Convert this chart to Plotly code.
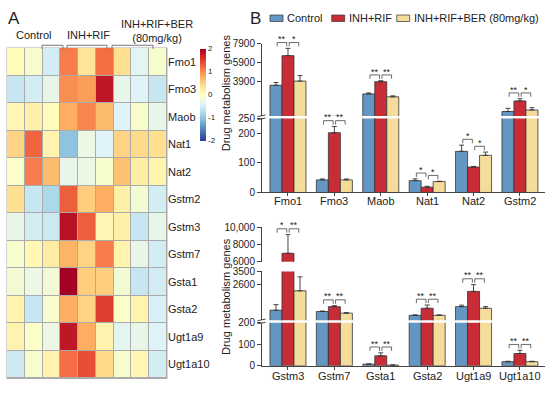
import plotly.graph_objects as go

W, H = 550, 397
FONT = "Arial, 'Liberation Sans', sans-serif"
TXT = "#222222"
AX = "#444444"

# ---------------- data ----------------
heat_genes = ["Fmo1", "Fmo3", "Maob", "Nat1", "Nat2", "Gstm2", "Gstm3", "Gstm7",
              "Gsta1", "Gsta2", "Ugt1a9", "Ugt1a10"]
heat_samples = ["C1", "C2", "C3", "R1", "R2", "R3", "B1", "B2", "B3"]
heat_z = [
    [0.05, -0.1, -0.5, 1.1, 0.35, 1.2, 0.4, -0.35, -0.1],
    [-0.6, -0.5, -0.3, 1.0, 0.9, 1.8, -0.3, -0.4, -0.6],
    [0.1, 0.2, 0.05, 0.8, 1.05, 0.7, -0.4, -0.1, -0.3],
    [0.5, 1.25, 0.15, -1.0, -0.25, -0.4, 0.5, 0.45, 0.4],
    [-0.05, 1.1, 0.7, -0.3, -0.25, -0.1, 0.65, 0.25, 0.15],
    [0.4, -0.6, -0.8, 1.3, 0.55, 0.8, 0.2, -0.15, -0.5],
    [-0.3, -0.5, -0.55, 1.85, 1.3, 0.1, 0.2, -0.6, -0.3],
    [-0.1, 0.1, 0.25, 0.75, 0.5, 1.1, 0.15, -0.3, -0.5],
    [-0.15, -0.25, -0.15, 2.0, 0.55, 0.55, -0.15, -0.6, -0.5],
    [0.15, -0.6, -0.1, 0.8, 0.5, 1.5, -0.05, 0.15, -0.45],
    [0.15, -0.05, -0.25, 1.8, 0.8, 0.15, -0.35, -0.3, -0.4],
    [-0.55, -0.1, 0.15, 1.2, 1.4, 0.45, -0.1, 0.1, -0.5],
]
heat_group_labels = ["Control", "INH+RIF", "INH+RIF+BER<br>(80mg/kg)"]
colorbar_ticks = [-2, -1, 0, 1, 2]

series_names = ["Control", "INH+RIF", "INH+RIF+BER (80mg/kg)"]
series_colors = ["#6496c3", "#c82d37", "#f5dc9b"]

top_genes = ["Fmo1", "Fmo3", "Maob", "Nat1", "Nat2", "Gstm2"]
top_control = [3510, 42.6, 2596, 40, 139, 730]
top_control_err = [290, 3, 100, 6, 21, 340]
top_inh = [6645, 202, 3891, 18, 86, 1851]
top_inh_err = [775, 21, 100, 3, 2, 235]
top_ber = [3953, 42.6, 2290, 37, 125.5, 893]
top_ber_err = [580, 3, 100, 1, 11, 245]
top_sig = [("**", "*"), ("**", "**"), ("**", "**"), ("*", "*"), ("*", "*"), ("**", "*")]

bot_genes = ["Gstm3", "Gstm7", "Gsta1", "Gsta2", "Ugt1a9", "Ugt1a10"]
bot_control = [876, 790, 7.6, 528, 1118, 19]
bot_control_err = [375, 30, 1, 30, 100, 2]
bot_inh = [6975, 1118, 46, 1007, 2149, 57]
bot_inh_err = [2160, 66, 14, 220, 460, 15]
bot_ber = [2188, 679, 3, 528, 1007, 19]
bot_ber_err = [945, 30, 1, 30, 110, 2]
bot_sig = [("*", "**"), ("**", "**"), ("**", "**"), ("**", "**"), ("**", "**"), ("**", "**")]

top_ticks_low = [0, 100, 200, 250]
top_ticks_high = [3900, 5900, 7900]
bot_ticks_low = [0, 100, 200]
bot_ticks_mid = [2600, 3500]
bot_ticks_high = [6000, 8000, 10000]
y_title = "Drug metabolism genes"


def fmt(v):
    return f"{v:,}" if v >= 10000 else str(v)


# ---------------- layout helpers (pixels -> paper) ----------------
def px(x):
    return x / W


def py(y):
    return 1 - y / H


X_L, X_R = 262, 545
XR = [-0.56, 5.54]
BARGAP = 0.224
UNIT = (X_R - X_L) / (XR[1] - XR[0])
BW = (1 - BARGAP) / 3


def bar_cx(i, s):
    return X_L + (i + (s - 1) * BW - XR[0]) * UNIT


panels = [
    dict(genes=top_genes,
         vals=[top_control, top_inh, top_ber],
         errs=[top_control_err, top_inh_err, top_ber_err],
         sig=top_sig,
         segs=[dict(lo=0, hi=250, bot=192.3, top=116.0, ticks=top_ticks_low),
               dict(lo=250, hi=7900, bot=113.5, top=39.0, ticks=top_ticks_high)],
         title_y=90, breaks=[114.8], label_y=200.8),
    dict(genes=bot_genes,
         vals=[bot_control, bot_inh, bot_ber],
         errs=[bot_control_err, bot_inh_err, bot_ber_err],
         sig=bot_sig,
         segs=[dict(lo=0, hi=200, bot=371.0, top=326.5, ticks=bot_ticks_low),
               dict(lo=200, hi=3500, bot=324.0, top=273.7, ticks=bot_ticks_mid),
               dict(lo=6000, hi=10000, bot=263.7, top=228.0, ticks=bot_ticks_high)],
         title_y=300, breaks=[325.3], label_y=382),
]


def val_to_px(v, segs):
    for sg in reversed(segs):
        if v >= sg["lo"]:
            v2 = min(v, sg["hi"])
            return sg["bot"] - (v2 - sg["lo"]) / (sg["hi"] - sg["lo"]) * (sg["bot"] - sg["top"])
    return segs[0]["bot"]


fig = go.Figure()
layout = dict(
    width=W, height=H, margin=dict(l=0, r=0, t=0, b=0),
    paper_bgcolor="white", plot_bgcolor="white",
    font=dict(family=FONT, color=TXT, size=11),
    barmode="group", bargap=BARGAP, bargroupgap=0,
    showlegend=False,
)
shapes = []
annotations = []

# ---------------- panel A: heatmap ----------------
HX0, HX1, HY0, HY1 = 7, 167, 43.3, 384
fig.add_trace(go.Heatmap(
    z=heat_z, x=heat_samples, y=heat_genes, colorscale="RdYlBu_r", zmin=-2, zmax=2,
    xgap=1, ygap=1, xaxis="x", yaxis="y",
    colorbar=dict(x=px(200), xanchor="left", y=py(44), yanchor="top",
                  len=95 / H, lenmode="fraction", thickness=6, thicknessmode="pixels",
                  outlinewidth=0, xpad=0, ypad=0, tickvals=colorbar_ticks,
                  ticktext=[str(t) for t in colorbar_ticks], ticks="",
                  tickfont=dict(size=8, color=TXT)),
))
layout["xaxis"] = dict(domain=[px(HX0), px(HX1)], visible=False, anchor="y")
layout["yaxis"] = dict(domain=[py(HY1), py(HY0)], autorange="reversed", side="right",
                       ticks="", showline=False, showgrid=False, zeroline=False,
                       tickfont=dict(size=11, color=TXT), anchor="x")
shapes.append(dict(type="rect", xref="paper", yref="paper", x0=px(HX0 - 0.5), x1=px(HX1 + 0.5),
                   y0=py(HY1 + 0.5), y1=py(HY0 - 0.5), fillcolor="#ababab", line=dict(width=0),
                   layer="below"))
# group labels and brackets above heatmap
grp_text_pos = [(33.3, 30), (88.3, 30), (156.5, 26)]
grp_brackets = [(42, 63), (67, 107), (112, 153)]
for lab, (tx, ty), (b0, b1) in zip(heat_group_labels, grp_text_pos, grp_brackets):
    annotations.append(dict(text=lab, x=px(tx), y=py(ty), xref="paper", yref="paper",
                            showarrow=False, font=dict(size=11, color=TXT),
                            xanchor="center", yanchor="middle"))
    shapes.append(dict(type="path", xref="paper", yref="paper",
                       path=f"M {px(b0)},{py(44.3)} L {px(b0)},{py(40.5)} L {px(b1)},{py(40.5)} L {px(b1)},{py(44.3)}",
                       line=dict(color="#777777", width=1)))

annotations.append(dict(text="A", x=px(14), y=py(13), xref="paper", yref="paper", showarrow=False,
                        font=dict(size=17, color=TXT), xanchor="center", yanchor="middle"))
annotations.append(dict(text="B", x=px(255.5), y=py(13), xref="paper", yref="paper", showarrow=False,
                        font=dict(size=17, color=TXT), xanchor="center", yanchor="middle"))

# ---------------- legend (manual) ----------------
leg_x = [270, 331.7, 396.7]
for name, col, lx in zip(series_names, series_colors, leg_x):
    shapes.append(dict(type="rect", xref="paper", yref="paper", x0=px(lx), x1=px(lx + 13),
                       y0=py(16), y1=py(9.3), fillcolor=col, line=dict(color=AX, width=0.8)))
    annotations.append(dict(text=name, x=px(lx + 15), y=py(12.8), xref="paper", yref="paper",
                            showarrow=False, font=dict(size=11, color=TXT),
                            xanchor="left", yanchor="middle"))

# ---------------- panel B: broken-axis bar charts ----------------
k = 2
for pn in panels:
    n = len(pn["genes"])
    for j, sg in enumerate(pn["segs"]):
        xa, ya = f"x{k}", f"y{k}"
        for s in range(3):
            fig.add_trace(go.Bar(
                x=pn["genes"], y=pn["vals"][s], name=series_names[s],
                marker=dict(color=series_colors[s], line=dict(color="#333333", width=0.8)),
                error_y=dict(type="data", array=pn["errs"][s], arrayminus=[0] * n,
                             symmetric=False, color="#333333", thickness=0.9, width=2.5),
                xaxis=xa, yaxis=ya, showlegend=False,
            ))
        xdict = dict(domain=[px(X_L), px(X_R)], range=XR, anchor=ya, type="category",
                     categoryorder="array", categoryarray=pn["genes"])
        if j == 0:
            xdict.update(showline=True, linecolor=AX, linewidth=1, ticks="outside", ticklen=3,
                         tickcolor=AX, showgrid=False, showticklabels=False)
        else:
            xdict.update(visible=False)
        layout[f"xaxis{k}"] = xdict
        layout[f"yaxis{k}"] = dict(
            domain=[py(sg["bot"]), py(sg["top"])], range=[sg["lo"], sg["hi"]], anchor=xa,
            showline=True, linecolor=AX, linewidth=1, ticks="outside", ticklen=4, tickcolor=AX,
            tickvals=sg["ticks"], ticktext=[fmt(t) for t in sg["ticks"]],
            showgrid=False, zeroline=False, tickfont=dict(size=10, color=TXT))
        k += 1

    # category labels
    for i, g in enumerate(pn["genes"]):
        annotations.append(dict(text=g, x=px(bar_cx(i, 1)), y=py(pn["label_y"]), xref="paper",
                                yref="paper", showarrow=False, font=dict(size=11, color=TXT),
                                xanchor="center", yanchor="middle"))

    # break marks on y axis
    for by in pn["breaks"]:
        for d in (-1.6, 1.6):
            shapes.append(dict(type="line", xref="paper", yref="paper",
                               x0=px(257.5), x1=px(265.5), y0=py(by + d + 0.8), y1=py(by + d - 0.8),
                               line=dict(color=AX, width=1)))

    # significance brackets
    for i in range(n):
        for (a, b), lab in zip([(0, 1), (1, 2)], pn["sig"][i]):
            vmax = max(pn["vals"][a][i] + pn["errs"][a][i], pn["vals"][b][i] + pn["errs"][b][i])
            ybot = val_to_px(vmax, pn["segs"]) - 2
            ytop = ybot - 4
            xa_ = bar_cx(i, a) + 1.2
            xb_ = bar_cx(i, b) - 1.2
            shapes.append(dict(type="path", xref="paper", yref="paper",
                               path=f"M {px(xa_)},{py(ybot)} L {px(xa_)},{py(ytop)} L {px(xb_)},{py(ytop)} L {px(xb_)},{py(ybot)}",
                               line=dict(color=AX, width=0.8)))
            annotations.append(dict(text=lab, x=px((xa_ + xb_) / 2), y=py(ytop - 3.5),
                                    xref="paper", yref="paper", showarrow=False,
                                    font=dict(size=9, color=TXT), xanchor="center", yanchor="middle"))

    annotations.append(dict(text=y_title, x=px(226), y=py(pn["title_y"]), xref="paper", yref="paper",
                            showarrow=False, textangle=-90, font=dict(size=11, color=TXT),
                            xanchor="center", yanchor="middle"))

layout["shapes"] = shapes
layout["annotations"] = annotations
fig.update_layout(**layout)
fig.write_html("out.html", config={"displayModeBar": False},
               post_script="document.body.style.margin='0px';")
